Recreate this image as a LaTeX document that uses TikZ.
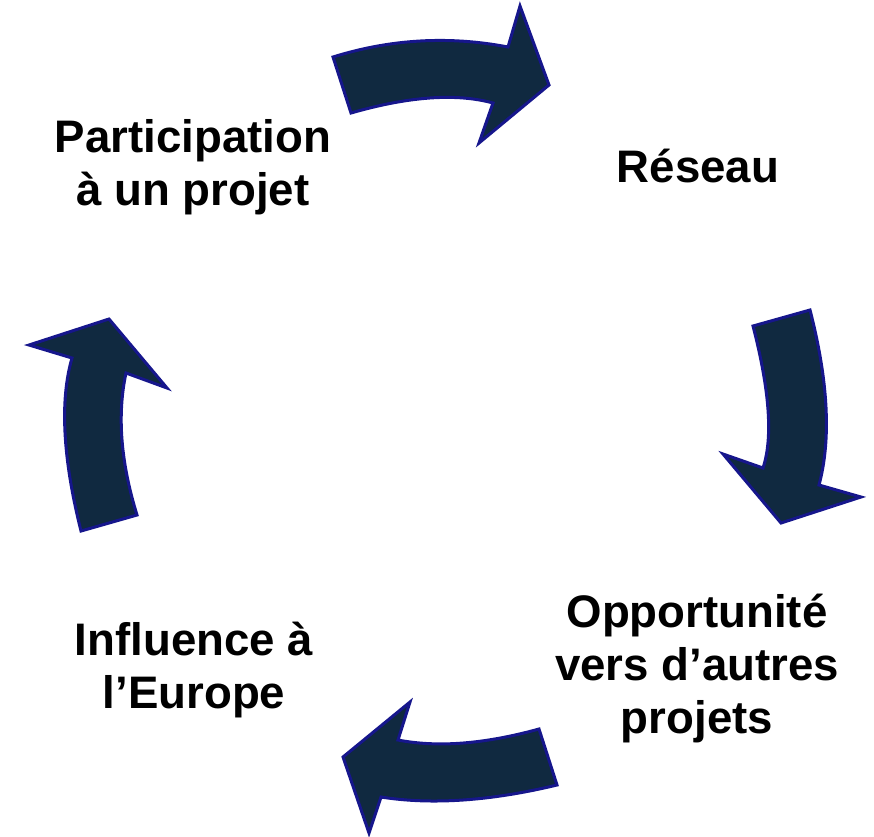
\documentclass[tikz,border=0pt]{standalone}
\usepackage{fontspec}
\setmainfont{Liberation Sans}
\definecolor{arrowfill}{RGB}{16,41,64}
\definecolor{arrowline}{RGB}{22,22,140}
\begin{document}
\begin{tikzpicture}[x=1pt,y=-1pt,
  blockarrow/.style={fill=arrowfill,draw=arrowline,line width=3pt,line join=miter},
  label/.style={align=center,font=\fontsize{45.6}{53}\selectfont\bfseries,inner sep=0pt}]
\useasboundingbox (0,0) rectangle (874,836);
% top arrow
\draw[blockarrow] (333,57) .. controls (390.7,39) and (449,35.7) .. (508,47) -- (520,6) -- (549,85) -- (479,143) -- (493,103)
  .. controls (456.3,93) and (409,96.3) .. (351,113) -- cycle;
% right arrow
\draw[blockarrow] (753,326) -- (810,310) .. controls (828.3,381) and (831.3,439.3) .. (819,485) -- (861,497) -- (781,523) -- (723,454) -- (763,468)
  .. controls (773,438) and (769.7,390.7) .. (753,326) -- cycle;
% bottom arrow
\draw[blockarrow] (539,729) -- (557,785) .. controls (490.3,801) and (431.7,805) .. (381,797) -- (369,833) -- (343,757) -- (410,702) -- (398,740)
  .. controls (437.7,747.7) and (484.7,744) .. (539,729) -- cycle;
% left arrow
\draw[blockarrow] (81,531) -- (137,515) .. controls (120.7,462.3) and (117,415) .. (126,373) -- (167,388) -- (109,319) -- (29,345) -- (72,358)
  .. controls (59.7,400.3) and (62.7,458) .. (81,531) -- cycle;
\node[label] (part) at (193,167) {Participation\\à un projet};
\node[label] (res) at (698,166) {Réseau};
\node[label] (opp) at (697,668) {Opportunité\\vers d’autres\\projets};
\node[label] (infl) at (194,670) {Influence à\\l’Europe};
\end{tikzpicture}
\end{document}
